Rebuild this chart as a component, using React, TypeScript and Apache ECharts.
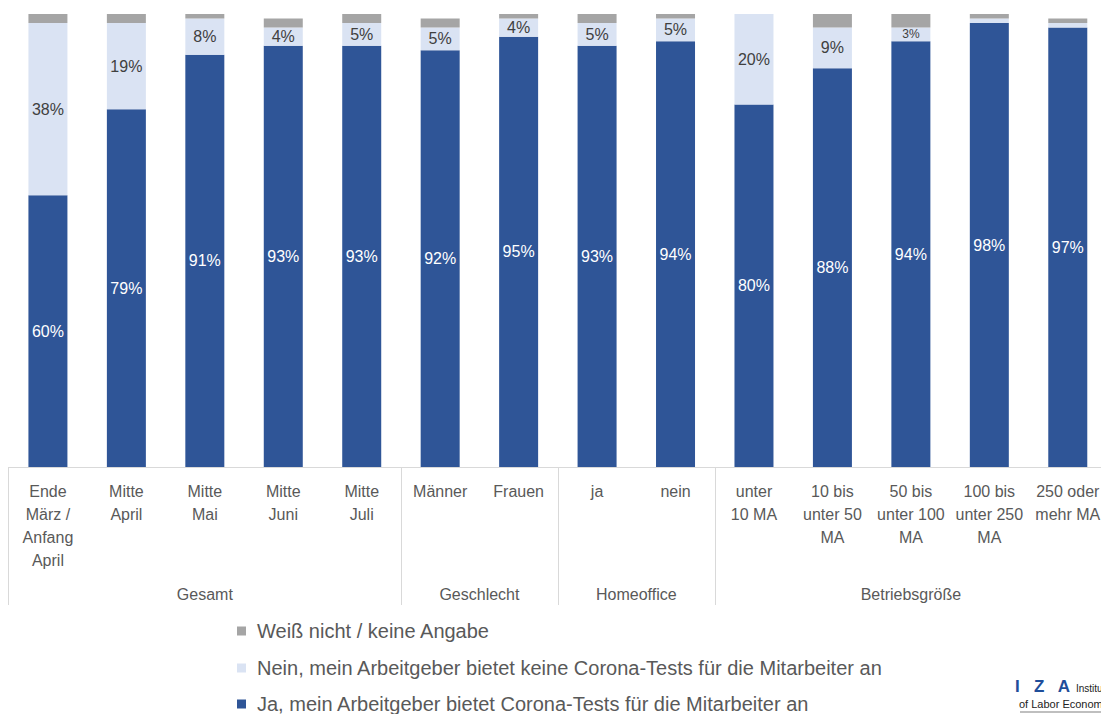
import React, { useEffect, useRef } from "react";
import * as echarts from "echarts";

const categories = [
  "Ende\nMärz /\nAnfang\nApril",
  "Mitte\nApril",
  "Mitte\nMai",
  "Mitte\nJuni",
  "Mitte\nJuli",
  "Männer",
  "Frauen",
  "ja",
  "nein",
  "unter\n10 MA",
  "10 bis\nunter 50\nMA",
  "50 bis\nunter 100\nMA",
  "100 bis\nunter 250\nMA",
  "250 oder\nmehr MA",
];
const jaValues = [60, 79, 91, 93, 93, 92, 95, 93, 94, 80, 88, 94, 98, 97];
const neinValues = [38, 19, 8, 4, 5, 5, 4, 5, 5, 20, 9, 3, 1, 1];
const weissValues = [2, 2, 1, 2, 2, 2, 1, 2, 1, 0, 3, 3, 1, 1];
const groupNames = ["Gesamt", "Geschlecht", "Homeoffice", "Betriebsgröße"];
const groupSizes = [5, 2, 2, 5];
const seriesNames = [
  "Ja, mein Arbeitgeber bietet Corona-Tests für die Mitarbeiter an",
  "Nein, mein Arbeitgeber bietet keine Corona-Tests für die Mitarbeiter an",
  "Weiß nicht / keine Angabe",
];

const FONT = "'Liberation Sans', Arial, sans-serif";

export default function App() {
  const ref = useRef<HTMLDivElement>(null);
  useEffect(() => {
    if (!ref.current) return;
    const chart = echarts.init(ref.current, null, { renderer: "svg" });
    const boundaries: number[] = [];
    const centers: number[] = [];
    let acc = 0;
    groupSizes.forEach((s) => {
      boundaries.push(acc);
      centers.push(acc + s / 2);
      acc += s;
    });
    const nCat = categories.length;
    const legendOrder = [seriesNames[2], seriesNames[1], seriesNames[0]];
    const legendTops = [621, 658, 694];
    const option: any = {
      animation: false,
      textStyle: { fontFamily: FONT },
      grid: { left: 8.7, right: 0, top: 14, bottom: 247, containLabel: false },
      xAxis: [
        {
          type: "category",
          data: categories,
          axisLine: { show: true, lineStyle: { color: "#D9D9D9", width: 1 } },
          axisTick: { show: false },
          axisLabel: {
            interval: 0,
            color: "#595959",
            fontSize: 16,
            lineHeight: 23,
            margin: 13,
            fontFamily: FONT,
            align: "center",
          },
        },
        {
          type: "value",
          min: 0,
          max: nCat,
          position: "bottom",
          axisLine: { show: false },
          splitLine: { show: false },
          axisTick: {
            show: true,
            customValues: boundaries,
            length: 138,
            lineStyle: { color: "#D9D9D9", width: 1 },
          },
          axisLabel: {
            show: true,
            customValues: centers,
            margin: 119,
            color: "#595959",
            fontSize: 16,
            fontFamily: FONT,
            formatter: (v: number) => {
              const i = centers.findIndex((c) => Math.abs(c - v) < 1e-6);
              return i >= 0 ? groupNames[i] : "";
            },
          },
        },
      ],
      yAxis: { type: "value", min: 0, max: 100, show: false },
      legend: legendOrder.map((name, i) => ({
        orient: "vertical",
        left: 237,
        top: legendTops[i],
        padding: 0,
        icon: "rect",
        itemWidth: 9,
        itemHeight: 9,
        itemGap: 0,
        data: [name],
        textStyle: { color: "#595959", fontSize: 20, fontFamily: FONT, lineHeight: 20, padding: [0, 0, 0, 6] },
      })),
      series: [
        {
          name: seriesNames[0],
          type: "bar",
          stack: "a",
          barWidth: 39,
          itemStyle: { color: "#2F5597" },
          label: {
            show: true,
            position: "inside",
            color: "#FFFFFF",
            fontSize: 16,
            fontFamily: FONT,
            formatter: "{c}%",
          },
          data: jaValues,
        },
        {
          name: seriesNames[1],
          type: "bar",
          stack: "a",
          barWidth: 39,
          itemStyle: { color: "#DAE3F3" },
          label: {
            show: true,
            position: "inside",
            color: "#404040",
            fontSize: 16,
            fontFamily: FONT,
            formatter: "{c}%",
          },
          data: neinValues.map((v) => ({
            value: v,
            label: v < 2 ? { show: false } : v < 4 ? { fontSize: 12 } : {},
          })),
        },
        {
          name: seriesNames[2],
          type: "bar",
          stack: "a",
          barWidth: 39,
          itemStyle: { color: "#A5A5A5" },
          label: { show: false },
          data: weissValues,
        },
      ],
      graphic: [
        {
          type: "text",
          left: 1015,
          top: 678,
          style: { text: "I   Z   A", fill: "#1F4E9A", font: "bold 17px " + FONT },
        },
        {
          type: "text",
          left: 1076,
          top: 683,
          style: { text: "Institute", fill: "#222", font: "10px " + FONT },
        },
        {
          type: "text",
          left: 1019,
          top: 698,
          style: { text: "of Labor Economics", fill: "#222", font: "11px " + FONT },
        },
        {
          type: "rect",
          shape: { x: 1020, y: 711, width: 90, height: 2 },
          style: { fill: "#BFBFBF" },
        },
      ],
    };
    chart.setOption(option);
    return () => chart.dispose();
  }, []);
  return (
    <div style={{ position: "fixed", left: 0, top: 0, width: 1101, height: 714, overflow: "hidden", background: "#fff" }}>
      <div ref={ref} style={{ width: 1107, height: 714 }} />
    </div>
  );
}
